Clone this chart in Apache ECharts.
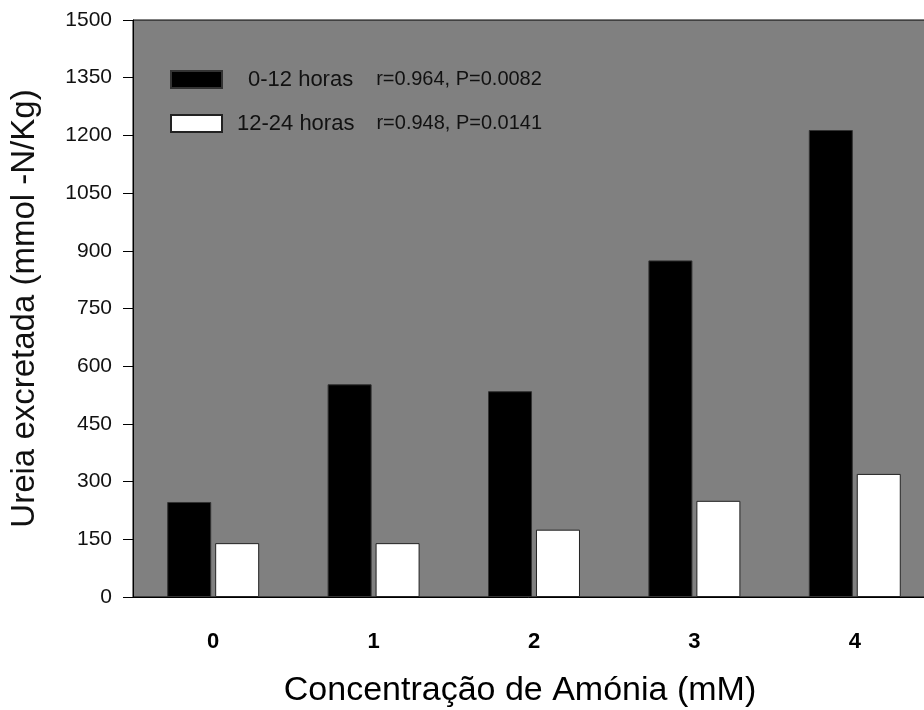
<!DOCTYPE html>
<html><head><meta charset="utf-8">
<script src="https://cdn.jsdelivr.net/npm/echarts@6/dist/echarts.min.js"></script>
<style>html,body{margin:0;padding:0;background:#fff}#c{width:924px;height:710px}</style>
</head><body><div id="c"></div>
<script>
const categories = ['0', '1', '2', '3', '4'];
const seriesNames = ['0-12 horas', '12-24 horas'];
const stats = ['r=0.964, P=0.0082', 'r=0.948, P=0.0141'];
const values0to12 = [247, 553, 535, 875, 1214];
const values12to24 = [140, 140, 175, 250, 320];
const yMin = 0, yMax = 1500, yStep = 150;
const xTitle = 'Concentração de Amónia (mM)';
const yTitle = 'Ureia excretada (mmol -N/Kg)';

const FONT = 'Arial, "Liberation Sans", sans-serif';
const chart = echarts.init(document.getElementById('c'), null, {renderer: 'canvas'});
const nameStyle = {fontSize: 22, lineHeight: 22, color: '#111', fontFamily: FONT};
const statStyle = {fontSize: 20, lineHeight: 22, color: '#111', fontFamily: FONT};
chart.setOption({
  animation: false,
  backgroundColor: '#ffffff',
  textStyle: {fontFamily: FONT},
  grid: {left: 133, top: 20, width: 802, bottom: 113, show: true, backgroundColor: '#808080', borderColor: '#000', borderWidth: 1, containLabel: false, outerBoundsMode: 'none'},
  legend: {
    orient: 'vertical', left: 165, top: 63.5, itemWidth: 51, itemHeight: 17, itemGap: 22,
    icon: 'rect', selectedMode: false,
    data: seriesNames,
    formatter: function (name) { const i = seriesNames.indexOf(name); return '{n' + i + '|' + name + '}{r' + i + '|' + stats[i] + '}'; },
    textStyle: {
      fontFamily: FONT, color: '#111',
      rich: {
        n0: Object.assign({padding: [0, 0, 0, 21]}, nameStyle),
        n1: Object.assign({padding: [0, 0, 0, 10]}, nameStyle),
        r0: Object.assign({padding: [0, 0, 0, 23]}, statStyle),
        r1: Object.assign({padding: [0, 0, 0, 22]}, statStyle)
      }
    }
  },
  xAxis: {
    type: 'category', data: categories,
    axisLine: {lineStyle: {color: '#000', width: 1}},
    axisTick: {alignWithLabel: true, length: 7, lineStyle: {color: '#000'}},
    axisLabel: {fontSize: 22, fontWeight: 'bold', color: '#000', margin: 34, fontFamily: FONT},
    name: xTitle, nameLocation: 'middle', nameGap: 77,
    nameTextStyle: {fontSize: 34, color: '#000', fontFamily: FONT, padding: [0, 28, 0, 0]},
    splitLine: {show: false}
  },
  yAxis: {
    type: 'value', min: yMin, max: yMax, interval: yStep,
    axisLine: {show: true, lineStyle: {color: '#000', width: 1}},
    axisTick: {show: true, length: 10, lineStyle: {color: '#000'}},
    axisLabel: {fontSize: 21, color: '#111', margin: 21, fontFamily: FONT, formatter: function (v) { return String(v); }},
    splitLine: {show: false},
    name: yTitle, nameLocation: 'middle', nameGap: 92,
    nameTextStyle: {fontSize: 33, color: '#111', fontFamily: FONT}
  },
  series: [
    {name: seriesNames[0], type: 'bar', data: values0to12, barWidth: 44, barGap: '9%',
     itemStyle: {color: '#000', borderColor: '#333', borderWidth: 1}},
    {name: seriesNames[1], type: 'bar', data: values12to24, barWidth: 44,
     itemStyle: {color: '#fff', borderColor: '#222', borderWidth: 1}}
  ]
});
</script></body></html>
